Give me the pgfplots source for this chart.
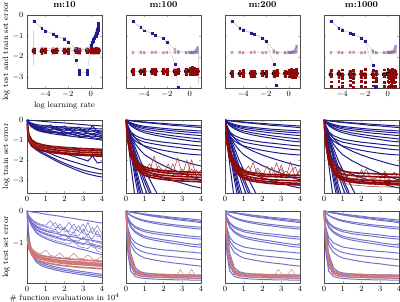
\documentclass[border=0pt]{standalone}
\usepackage{pgfplots}
\usepackage{pgfplotstable}
\pgfplotsset{compat=1.18}

\definecolor{dblue}{RGB}{30,30,140}
\definecolor{lblue}{RGB}{115,115,205}
\definecolor{dred}{RGB}{140,10,10}
\definecolor{lred}{RGB}{205,120,120}

\pgfplotsset{
  panel/.style={scale only axis, width=75pt, anchor=north west,
    tick label style={font=\footnotesize}, label style={font=\footnotesize},
    title style={font=\small\bfseries, yshift=-2.5pt}, ylabel shift=-4pt, xlabel shift=-2pt,
    major tick length=2pt, tick style={gray!60}, axis line style={gray!60!black}},
  lr/.style={height=73pt, xmin=-5.6, xmax=1.0, ymin=-3.5, ymax=0,
    xtick={-4,-2,0}, ytick={0,-1,-2,-3}},
  tr/.style={height=73pt, xmin=0, xmax=4, ymin=-3.65, ymax=0,
    xtick={0,1,2,3,4}, ytick={0,-1,-2,-3}},
  te/.style={height=72pt, xmin=0, xmax=4, ymin=-2.22, ymax=0,
    xtick={0,1,2,3,4}, ytick={0,-1}},
  inner/.style={yticklabels={}},
  meanline/.style={gray!45, line width=0.4pt, mark=none},
  trb/.style={dblue, line width=1pt, mark=none},
  trr/.style={dred, line width=1.6pt, mark=none},
  trs/.style={dred!80, line width=0.5pt, mark=none},
  teb/.style={lblue, line width=1pt, mark=none},
  tes/.style={lblue, line width=0.5pt, mark=none},
  ter/.style={lred, line width=1.2pt, mark=none},
}

% curves of a transposed table: column 1 holds the x grid, #2 lists the columns
\newcommand{\curves}[3]{\pgfplotsinvokeforeach{#2}{\addplot[#3] table[x index=1,y index=##1]{#1};}}

% repeated runs of the second method at each learning rate
\newcommand{\redruns}[2]{%
  \addplot[meanline] table[x index=0,y index=1]{#1};
  \addplot[meanline] table[x index=0,y index=4]{#1};
  \addplot[only marks, mark=none, error bars/.cd, y dir=both, y fixed=0.14,
    error bar style={lred!55}] table[x index=0,y index=4]{#1};
  \pgfplotsinvokeforeach{1,2}{\addplot[only marks, mark=x, lred, mark size=1.6pt] table[x index=0,y index=##1]{#1};}
  \pgfplotsinvokeforeach{3,...,#2}{\addplot[only marks, mark=square*, dred, mark size=0.9pt] table[x index=0,y index=##1]{#1};}
}

% ---------- learning-rate sweeps ----------
\pgfplotstableread{
L te1 te2 tr1 tr2 tr3
-5 -1.6 -1.66 -1.64 -1.72 -1.8
-4.3 -1.58 -1.66 -1.65 -1.73 -1.82
-4 -1.62 -1.68 -1.62 -1.7 -1.78
-3.3 -1.6 -1.66 -1.66 -1.73 -1.81
-3 -1.58 -1.65 -1.63 -1.71 -1.79
-2.3 -1.6 -1.67 -1.62 -1.72 -1.8
-2 -1.6 -1.68 -1.64 -1.73 -1.82
-1.3 -1.58 -1.65 -1.6 -1.7 -1.78
-1 -1.6 -1.67 -1.63 -1.72 -1.8
-0.3 -1.59 -1.66 -1.62 -1.71 -1.79
0 -1.6 -1.68 -1.64 -1.73 -1.8
0.1 -1.58 -1.66 -1.6 -1.7 -1.78
0.2 -1.6 -1.67 -1.63 -1.72 -1.8
0.3 -1.59 -1.66 -1.62 -1.71 -1.79
0.4 -1.6 -1.68 -1.64 -1.74 -1.81
0.5 -1.58 -1.65 -1.61 -1.7 -1.78
0.6 -1.6 -1.67 -1.63 -1.72 -1.8
0.7 -1.59 -1.66 -1.62 -1.71 -1.79
}\lrRedA

\pgfplotstableread{
L te1 te2 tr1 tr2 tr3
-5 -1.78 -1.82 -2.6 -2.7 -2.82
-4.3 -1.77 -1.81 -2.62 -2.71 -2.8
-4 -1.79 -1.83 -2.58 -2.69 -2.83
-3.3 -1.78 -1.82 -2.6 -2.72 -2.81
-3 -1.77 -1.81 -2.61 -2.7 -2.84
-2.3 -1.79 -1.83 -2.57 -2.7 -2.8
-2 -1.78 -1.82 -2.6 -2.71 -2.82
-1.3 -1.77 -1.81 -2.62 -2.7 -2.83
-1 -1.79 -1.83 -2.59 -2.69 -2.81
-0.3 -1.78 -1.82 -2.6 -2.7 -2.82
0 -1.78 -1.82 -2.55 -2.68 -2.85
0.1 -1.77 -1.81 -2.58 -2.7 -2.8
0.2 -1.79 -1.83 -2.5 -2.69 -2.84
0.3 -1.78 -1.82 -2.6 -2.71 -2.86
0.4 -1.78 -1.8 -2.56 -2.7 -2.82
0.5 -1.77 -1.81 -2.62 -2.72 -2.85
0.6 -1.76 -1.8 -2.58 -2.69 -2.83
0.7 -1.74 -1.79 -2.6 -2.7 -2.8
}\lrRedB

\pgfplotstableread{
L te1 te2 tr1 tr2 tr3
-5 -1.78 -1.82 -2.68 -2.8 -2.93
-4.3 -1.77 -1.81 -2.7 -2.81 -2.9
-4 -1.79 -1.83 -2.66 -2.79 -2.94
-3.3 -1.78 -1.82 -2.69 -2.8 -2.92
-3 -1.77 -1.81 -2.7 -2.82 -2.95
-2.3 -1.79 -1.83 -2.67 -2.8 -2.9
-2 -1.78 -1.82 -2.68 -2.81 -2.93
-1.3 -1.77 -1.81 -2.7 -2.8 -2.94
-1 -1.79 -1.83 -2.66 -2.79 -2.91
-0.3 -1.78 -1.82 -2.68 -2.8 -2.93
0 -1.78 -1.82 -2.62 -2.78 -2.96
0.1 -1.77 -1.81 -2.66 -2.8 -2.9
0.2 -1.79 -1.83 -2.6 -2.79 -2.95
0.3 -1.78 -1.82 -2.68 -2.81 -2.97
0.4 -1.78 -1.8 -2.64 -2.8 -2.92
0.5 -1.77 -1.81 -2.7 -2.82 -2.96
0.6 -1.75 -1.79 -2.65 -2.79 -2.94
0.7 -1.7 -1.78 -2.68 -2.8 -2.9
}\lrRedC

\pgfplotstableread{
L te1 te2 tr1 tr2 tr3 tr4 tr5
-5 -1.78 -1.82 -2.66 -2.85 -2.95 -3.2 -3.4
-4.3 -1.77 -1.81 -2.7 -2.82 -3.0 -3.18 -3.45
-4 -1.79 -1.83 -2.62 -2.88 -3.02 -3.25 -3.42
-3.3 -1.78 -1.82 -2.68 -2.84 -2.98 -3.15 -3.38
-3 -1.77 -1.81 -2.64 -2.86 -3.04 -3.22 -3.46
-2.3 -1.79 -1.83 -2.7 -2.83 -2.97 -3.19 -3.4
-2 -1.78 -1.82 -2.6 -2.87 -3.01 -3.24 -3.44
-1.3 -1.77 -1.81 -2.66 -2.85 -2.99 -3.2 -3.39
-1 -1.79 -1.83 -2.68 -2.84 -3.03 -3.17 -3.43
-0.3 -1.78 -1.82 -2.62 -2.86 -2.96 -3.21 -3.41
0 -1.78 -1.82 -2.6 -2.82 -3.0 -3.18 -3.45
0.1 -1.77 -1.81 -2.66 -2.88 -3.05 -3.23 -3.4
0.2 -1.79 -1.83 -2.63 -2.84 -2.98 -3.2 -3.42
0.3 -1.78 -1.82 -2.69 -2.86 -3.02 -3.16 -3.38
0.4 -1.78 -1.8 -2.61 -2.83 -2.97 -3.22 -3.44
0.5 -1.77 -1.81 -2.67 -2.87 -3.04 -3.19 -3.41
0.6 -1.75 -1.79 -2.64 -2.85 -3.0 -3.24 -3.46
0.7 -1.7 -1.78 -2.68 -2.84 -2.99 -3.2 -3.4
}\lrRedD

% ---------- training error curves (first row: x grid) ----------
\pgfplotstableread[header=false]{
0 0.1 0.25 0.5 0.75 1 1.25 1.5 1.75 2 2.25 2.5 2.75 3 3.25 3.5 3.75 4
0 -0.01 -0.02 -0.04 -0.06 -0.08 -0.1 -0.12 -0.13 -0.15 -0.17 -0.19 -0.21 -0.23 -0.25 -0.27 -0.28 -0.3
0 -0.09 -0.16 -0.23 -0.26 -0.28 -0.3 -0.32 -0.33 -0.35 -0.36 -0.37 -0.39 -0.4 -0.41 -0.42 -0.44 -0.45
0 -0.11 -0.19 -0.28 -0.32 -0.3 -0.37 -0.39 -0.35 -0.42 -0.44 -0.4 -0.47 -0.48 -0.45 -0.52 -0.53 -0.55
0 -0.13 -0.23 -0.33 -0.38 -0.41 -0.39 -0.46 -0.48 -0.45 -0.52 -0.54 -0.5 -0.57 -0.59 -0.55 -0.63 -0.65
0 -0.14 -0.25 -0.36 -0.42 -0.45 -0.48 -0.44 -0.53 -0.55 -0.5 -0.6 -0.62 -0.58 -0.66 -0.68 -0.64 -0.72
0 -0.16 -0.28 -0.4 -0.46 -0.5 -0.54 -0.57 -0.52 -0.62 -0.64 -0.6 -0.69 -0.7 -0.66 -0.75 -0.72 -0.8
0 -0.17 -0.3 -0.43 -0.49 -0.54 -0.57 -0.6 -0.63 -0.6 -0.68 -0.71 -0.66 -0.75 -0.77 -0.72 -0.82 -0.85
0 -0.18 -0.32 -0.45 -0.52 -0.57 -0.55 -0.64 -0.67 -0.69 -0.64 -0.75 -0.77 -0.72 -0.82 -0.85 -0.8 -0.9
0 -0.19 -0.33 -0.48 -0.55 -0.6 -0.64 -0.6 -0.7 -0.73 -0.76 -0.7 -0.82 -0.84 -0.8 -0.89 -0.92 -0.95
0 -0.2 -0.35 -0.5 -0.58 -0.63 -0.67 -0.71 -0.74 -0.77 -0.8 -0.83 -0.86 -0.88 -0.91 -0.94 -0.97 -1.0
0 -0.12 -0.21 -0.3 -0.35 -0.38 -0.25 -0.43 -0.44 -0.3 -0.48 -0.5 -0.35 -0.53 -0.55 -0.3 -0.58 -0.6
0 -0.7 -1.0 -1.2 -1.3 -1.38 -1.45 -1.52 -1.6 -1.68 -1.75 -1.82 -1.9 -1.97 -2.05 -1.8 -2.15 -2.1
0 -0.85 -1.15 -1.35 -1.48 -1.58 -1.68 -1.78 -1.87 -1.95 -2.03 -2.1 -2.17 -2.24 -2.31 -2.37 -2.44 -2.5
0 -0.95 -1.25 -1.45 -1.6 -1.7 -1.83 -1.95 -2.06 -2.16 -2.26 -2.35 -2.43 -2.51 -2.57 -2.62 -2.66 -2.7
0 -1.0 -1.3 -1.5 -1.65 -1.77 -1.9 -2.02 -2.14 -2.25 -2.35 -2.45 -2.54 -2.63 -2.7 -2.76 -2.81 -2.85
}\rawTrBlueA
\pgfplotstabletranspose{\trBlueA}{\rawTrBlueA}

\pgfplotstableread[header=false]{
0 0.1 0.25 0.5 0.75 1 1.25 1.5 1.75 2 2.25 2.5 2.75 3 3.25 3.5 3.75 4
-0.2 -0.8 -1.05 -1.2 -1.28 -1.33 -1.37 -1.4 -1.42 -1.44 -1.46 -1.48 -1.5 -1.51 -1.52 -1.53 -1.54 -1.55
-0.2 -0.9 -1.15 -1.3 -1.38 -1.43 -1.47 -1.5 -1.52 -1.54 -1.56 -1.58 -1.6 -1.61 -1.62 -1.63 -1.64 -1.65
-0.2 -1.0 -1.25 -1.4 -1.48 -1.53 -1.57 -1.6 -1.62 -1.64 -1.66 -1.68 -1.7 -1.71 -1.72 -1.73 -1.74 -1.75
-0.2 -1.05 -1.3 -1.45 -1.53 -1.58 -1.62 -1.65 -1.68 -1.7 -1.72 -1.74 -1.76 -1.77 -1.78 -1.79 -1.8 -1.82
-0.2 -0.85 -1.1 -1.25 -1.2 -1.38 -1.42 -1.3 -1.47 -1.49 -1.35 -1.53 -1.55 -1.4 -1.57 -1.58 -1.45 -1.6
-0.2 -0.95 -1.2 -1.35 -1.43 -1.3 -1.52 -1.55 -1.42 -1.59 -1.61 -1.48 -1.65 -1.66 -1.52 -1.68 -1.69 -1.55
-0.2 -0.75 -1.0 -1.15 -1.22 -1.27 -1.31 -1.33 -1.35 -1.37 -1.39 -1.4 -1.42 -1.43 -1.44 -1.45 -1.46 -1.47
}\rawTrRedA
\pgfplotstabletranspose{\trRedA}{\rawTrRedA}

\pgfplotstableread[header=false]{
0 0.1 0.25 0.5 0.75 1 1.5 2 2.5 3 3.5 4
0 -0.01 -0.03 -0.05 -0.08 -0.1 -0.14 -0.17 -0.21 -0.24 -0.27 -0.3
0 -0.02 -0.04 -0.07 -0.1 -0.13 -0.17 -0.22 -0.27 -0.3 -0.34 -0.38
0 -0.07 -0.14 -0.22 -0.28 -0.32 -0.37 -0.42 -0.46 -0.49 -0.52 -0.55
0 -0.08 -0.16 -0.26 -0.33 -0.38 -0.44 -0.49 -0.54 -0.58 -0.62 -0.65
0 -0.09 -0.2 -0.31 -0.39 -0.45 -0.53 -0.59 -0.65 -0.69 -0.74 -0.78
0 -0.11 -0.24 -0.38 -0.48 -0.55 -0.65 -0.72 -0.79 -0.85 -0.9 -0.95
0 -0.13 -0.28 -0.44 -0.55 -0.64 -0.75 -0.84 -0.91 -0.98 -1.05 -1.1
0 -0.33 -0.59 -0.78 -0.88 -0.96 -1.04 -1.11 -1.16 -1.21 -1.26 -1.3
0 -0.38 -0.68 -0.9 -1.02 -1.11 -1.2 -1.28 -1.34 -1.4 -1.46 -1.5
0 -0.45 -0.8 -1.05 -1.2 -1.3 -1.42 -1.52 -1.6 -1.67 -1.72 -1.75
0 -0.28 -0.58 -0.92 -1.15 -1.33 -1.56 -1.75 -1.91 -2.05 -2.19 -2.3
0 -0.36 -0.75 -1.2 -1.5 -1.74 -2.04 -2.28 -2.49 -2.67 -2.85 -3.0
0 -0.85 -1.53 -2.04 -2.31 -2.52 -2.72 -2.89 -3.03 -3.16 -3.3 -3.4
0 -0.7 -1.6 -3.0 -4.2 -5 -6 -7 -8 -9 -10 -11
0 -0.5 -1.2 -2.3 -3.2 -4.0 -5 -6 -7 -8 -9 -10
0 -0.45 -1.0 -1.9 -2.7 -3.4 -4.5 -5.5 -6.5 -7.5 -8.5 -9.5
0 -0.4 -0.9 -1.6 -2.3 -2.9 -4.0 -5 -6 -7 -8 -9
0 -1.0 -2.2 -4.0 -5.5 -7 -8 -9 -10 -11 -12 -13
0 -0.35 -0.8 -1.4 -2.0 -2.5 -3.4 -4.3 -5.2 -6 -7 -8
0 -0.55 -1.3 -2.5 -3.5 -4.3 -5.5 -6.5 -7.5 -8.5 -9.5 -10.5
0 -0.42 -0.95 -1.75 -2.5 -3.1 -4.2 -5.2 -6.2 -7.2 -8.2 -9.2
0 -0.6 -1.45 -2.7 -3.8 -4.6 -5.8 -6.8 -7.8 -8.8 -9.8 -10.8
0 -0.48 -1.1 -2.1 -2.95 -3.7 -4.8 -5.8 -6.8 -7.8 -8.8 -9.8
}\rawTrBlueFan
\pgfplotstabletranspose{\trBlueFan}{\rawTrBlueFan}

\pgfplotstableread[header=false]{
0 0.1 0.25 0.5 0.75 1 1.25 1.5 1.75 2 2.25 2.5 2.75 3 3.25 3.5 3.75 4
0 -0.8 -1.5 -2.05 -2.3 -2.45 -2.52 -2.57 -2.6 -2.63 -2.65 -2.67 -2.69 -2.7 -2.71 -2.72 -2.73 -2.74
0 -0.9 -1.6 -2.15 -2.42 -2.57 -2.64 -2.69 -2.73 -2.76 -2.78 -2.8 -2.82 -2.83 -2.84 -2.85 -2.86 -2.87
0 -0.7 -1.4 -1.95 -2.2 -2.35 -2.42 -2.47 -2.5 -2.53 -2.55 -2.57 -2.58 -2.59 -2.6 -2.61 -2.62 -2.62
0 -1.0 -1.7 -2.25 -2.52 -2.67 -2.75 -2.8 -2.84 -2.87 -2.9 -2.92 -2.94 -2.95 -2.96 -2.97 -2.98 -3.0
0 -0.8 -1.5 -2.1 -2.35 -2.5 -2.2 -2.6 -2.5 -2.68 -2.2 -2.72 -2.75 -2.45 -2.77 -2.0 -2.8 -2.5
0 -0.85 -1.55 -2.1 -2.38 -2.45 -2.6 -1.8 -2.66 -2.55 -2.73 -2.2 -2.76 -2.78 -2.0 -2.8 -2.5 -2.82
0 -0.75 -1.45 -2.0 -2.28 -2.42 -2.5 -2.55 -2.3 -2.61 -2.64 -2.66 -1.9 -2.69 -2.7 -2.45 -2.72 -2.73
0 -1.05 -1.8 -2.35 -2.62 -2.77 -2.85 -2.9 -2.94 -2.97 -3.0 -3.02 -3.04 -3.05 -3.06 -3.07 -3.08 -3.1
}\rawTrRedB
\pgfplotstabletranspose{\trRedB}{\rawTrRedB}

\pgfplotstableread[header=false]{
0 0.1 0.25 0.5 0.75 1 1.25 1.5 1.75 2 2.25 2.5 2.75 3 3.25 3.5 3.75 4
0 -0.9 -1.6 -2.2 -2.48 -2.62 -2.7 -2.75 -2.78 -2.8 -2.82 -2.83 -2.84 -2.85 -2.86 -2.87 -2.88 -2.88
0 -1.0 -1.75 -2.3 -2.6 -2.75 -2.83 -2.88 -2.92 -2.95 -2.97 -2.99 -3.0 -3.01 -3.02 -3.03 -3.04 -3.05
0 -0.8 -1.5 -2.1 -2.38 -2.52 -2.6 -2.65 -2.68 -2.7 -2.72 -2.73 -2.74 -2.75 -2.75 -2.76 -2.76 -2.77
0 -1.1 -1.85 -2.4 -2.7 -2.85 -2.93 -2.98 -3.02 -3.05 -3.08 -3.1 -3.12 -3.13 -3.14 -3.15 -3.16 -3.17
0 -0.9 -1.6 -2.2 -2.48 -2.62 -2.3 -2.75 -2.55 -2.8 -2.3 -2.83 -2.65 -2.45 -2.86 -2.1 -2.88 -2.55
0 -0.95 -1.65 -2.25 -2.55 -2.68 -2.76 -2.1 -2.84 -2.65 -2.88 -2.35 -2.9 -2.25 -2.92 -2.6 -2.35 -2.94
0 -0.85 -1.55 -2.15 -2.42 -2.56 -2.64 -2.69 -2.4 -2.74 -2.76 -2.77 -2.15 -2.79 -2.55 -2.81 -2.82 -2.45
0 -1.15 -1.9 -2.48 -2.78 -2.93 -3.01 -3.06 -3.1 -3.13 -3.16 -3.18 -3.2 -3.21 -3.22 -3.23 -3.24 -3.25
}\rawTrRedC
\pgfplotstabletranspose{\trRedC}{\rawTrRedC}

\pgfplotstableread[header=false]{
0 0.1 0.25 0.5 0.75 1 1.25 1.5 1.75 2 2.25 2.5 2.75 3 3.25 3.5 3.75 4
0 -1.0 -1.8 -2.35 -2.6 -2.7 -2.75 -2.78 -2.8 -2.81 -2.82 -2.83 -2.84 -2.85 -2.85 -2.86 -2.86 -2.87
0 -1.1 -1.95 -2.5 -2.75 -2.86 -2.92 -2.96 -2.98 -3.0 -3.01 -3.02 -3.03 -3.04 -3.05 -3.05 -3.06 -3.06
0 -0.9 -1.65 -2.2 -2.45 -2.55 -2.6 -2.63 -2.65 -2.66 -2.67 -2.68 -2.69 -2.7 -2.7 -2.71 -2.71 -2.72
0 -1.2 -2.05 -2.6 -2.88 -3.0 -3.07 -3.11 -3.14 -3.16 -3.18 -3.19 -3.2 -3.21 -3.22 -3.23 -3.23 -3.24
0 -1.25 -2.15 -2.72 -3.0 -3.13 -3.2 -3.24 -3.27 -3.29 -3.31 -3.32 -3.33 -3.34 -3.35 -3.35 -3.36 -3.36
0 -1.0 -1.85 -2.4 -2.66 -2.77 -2.83 -2.6 -2.89 -2.9 -2.45 -2.93 -2.94 -2.7 -2.96 -2.96 -2.6 -2.97
0 -1.05 -1.9 -2.45 -2.7 -2.82 -2.88 -2.92 -2.94 -2.5 -2.97 -2.98 -2.99 -3.0 -2.55 -3.01 -3.02 -3.02
0 -1.15 -2.0 -2.55 -2.8 -2.93 -3.0 -3.04 -3.07 -3.09 -3.11 -3.12 -3.13 -3.14 -3.15 -3.15 -3.16 -3.16
}\rawTrRedD
\pgfplotstabletranspose{\trRedD}{\rawTrRedD}

% ---------- test error curves ----------
\pgfplotstableread[header=false]{
0 0.1 0.25 0.5 0.75 1 1.25 1.5 1.75 2 2.25 2.5 2.75 3 3.25 3.5 3.75 4
0 -0.01 -0.03 -0.05 -0.07 -0.1 -0.12 -0.14 -0.16 -0.19 -0.21 -0.23 -0.26 -0.28 -0.3 -0.32 -0.35 -0.37
0 -0.14 -0.25 -0.35 -0.41 -0.44 -0.3 -0.5 -0.52 -0.54 -0.35 -0.58 -0.6 -0.4 -0.64 -0.66 -0.45 -0.7
0 -0.16 -0.28 -0.4 -0.46 -0.5 -0.54 -0.57 -0.4 -0.62 -0.64 -0.66 -0.45 -0.7 -0.73 -0.5 -0.78 -0.8
0 -0.18 -0.32 -0.45 -0.52 -0.57 -0.6 -0.64 -0.67 -0.5 -0.72 -0.75 -0.77 -0.55 -0.82 -0.85 -0.6 -0.9
0 -0.2 -0.35 -0.5 -0.58 -0.63 -0.67 -0.55 -0.74 -0.77 -0.8 -0.65 -0.86 -0.88 -0.7 -0.94 -0.97 -1.0
0 -0.22 -0.38 -0.54 -0.63 -0.68 -0.72 -0.77 -0.8 -0.7 -0.86 -0.9 -0.93 -0.8 -0.98 -1.02 -1.05 -1.08
0 -0.24 -0.41 -0.59 -0.68 -0.74 -0.79 -0.84 -0.87 -0.91 -0.8 -0.98 -1.01 -1.04 -0.9 -1.11 -1.14 -1.18
0 -0.26 -0.45 -0.64 -0.74 -0.81 -0.86 -0.91 -0.95 -0.99 -1.02 -0.9 -1.1 -1.13 -1.16 -1.0 -1.24 -1.28
0 -0.15 -0.26 -0.38 -0.44 -0.47 -0.5 -0.35 -0.56 -0.58 -0.6 -0.4 -0.64 -0.66 -0.35 -0.7 -0.72 -0.75
0 -0.27 -0.47 -0.68 -0.78 -0.85 -0.91 -0.96 -1.0 -1.04 -1.08 -1.12 -1.16 -1.19 -1.23 -1.27 -1.31 -1.35
0 -0.8 -1.25 -1.48 -1.58 -1.64 -1.68 -1.72 -1.75 -1.78 -1.8 -1.83 -1.85 -1.87 -1.89 -1.91 -1.93 -1.95
0 -0.85 -1.3 -1.53 -1.63 -1.69 -1.73 -1.77 -1.8 -1.83 -1.85 -1.88 -1.9 -1.92 -1.94 -1.96 -1.98 -2.0
0 -0.9 -1.35 -1.58 -1.68 -1.74 -1.78 -1.82 -1.85 -1.88 -1.9 -1.93 -1.95 -1.97 -1.99 -2.01 -2.03 -2.05
0 -0.19 -0.34 -0.48 -0.56 -0.61 -0.65 -0.69 -0.72 -0.75 -0.78 -0.8 -0.83 -0.86 -0.88 -0.91 -0.93 -0.96
0 -0.23 -0.4 -0.57 -0.66 -0.71 -0.76 -0.8 -0.84 -0.88 -0.91 -0.94 -0.97 -1.0 -1.03 -1.06 -1.09 -1.12
}\rawTeBlueA
\pgfplotstabletranspose{\teBlueA}{\rawTeBlueA}

\pgfplotstableread[header=false]{
0 0.1 0.25 0.5 0.75 1 1.25 1.5 1.75 2 2.25 2.5 2.75 3 3.25 3.5 3.75 4
-0.8 -1.0 -1.2 -1.32 -1.37 -1.4 -1.42 -1.44 -1.45 -1.47 -1.48 -1.49 -1.5 -1.51 -1.52 -1.53 -1.54 -1.55
-0.8 -1.05 -1.25 -1.37 -1.42 -1.45 -1.48 -1.5 -1.52 -1.54 -1.55 -1.56 -1.57 -1.58 -1.59 -1.6 -1.61 -1.62
-0.8 -1.1 -1.3 -1.42 -1.48 -1.52 -1.55 -1.58 -1.6 -1.62 -1.63 -1.64 -1.65 -1.66 -1.67 -1.68 -1.69 -1.7
-0.8 -1.15 -1.35 -1.48 -1.55 -1.59 -1.62 -1.65 -1.67 -1.69 -1.7 -1.72 -1.73 -1.74 -1.75 -1.76 -1.77 -1.78
-0.8 -0.95 -1.15 -1.27 -1.32 -1.2 -1.37 -1.4 -1.3 -1.43 -1.44 -1.3 -1.46 -1.47 -1.35 -1.48 -1.49 -1.4
-0.8 -1.08 -1.28 -1.4 -1.45 -1.48 -1.51 -1.53 -1.55 -1.57 -1.58 -1.6 -1.61 -1.62 -1.63 -1.64 -1.65 -1.66
}\rawTeRedA
\pgfplotstabletranspose{\teRedA}{\rawTeRedA}

\pgfplotstableread[header=false]{
0 0.1 0.25 0.5 0.75 1 1.5 2 2.5 3 3.5 4
0 -0.01 -0.03 -0.05 -0.07 -0.09 -0.13 -0.16 -0.2 -0.22 -0.25 -0.28
0 -0.01 -0.03 -0.06 -0.08 -0.11 -0.15 -0.19 -0.22 -0.26 -0.29 -0.32
0 -0.01 -0.04 -0.06 -0.09 -0.12 -0.17 -0.21 -0.25 -0.29 -0.32 -0.36
0 -0.06 -0.13 -0.2 -0.25 -0.29 -0.34 -0.38 -0.42 -0.45 -0.48 -0.5
0 -0.07 -0.14 -0.22 -0.28 -0.32 -0.38 -0.43 -0.46 -0.5 -0.53 -0.56
0 -0.2 -0.36 -0.48 -0.54 -0.59 -0.64 -0.68 -0.71 -0.74 -0.78 -0.8
0 -0.22 -0.39 -0.52 -0.59 -0.64 -0.7 -0.74 -0.77 -0.81 -0.84 -0.87
0 -0.26 -0.47 -0.63 -0.71 -0.78 -0.84 -0.89 -0.93 -0.98 -1.02 -1.05
0 -0.28 -0.5 -0.67 -0.76 -0.83 -0.9 -0.95 -1.0 -1.04 -1.09 -1.12
0 -0.52 -0.81 -0.98 -1.05 -1.11 -1.16 -1.2 -1.22 -1.25 -1.27 -1.3
0 -0.6 -0.93 -1.13 -1.22 -1.28 -1.34 -1.38 -1.41 -1.44 -1.47 -1.5
0 -0.68 -1.05 -1.28 -1.38 -1.45 -1.51 -1.56 -1.6 -1.63 -1.67 -1.7
0 -0.9 -1.5 -1.85 -1.93 -1.96 -1.98 -1.99 -2.0 -2.0 -2.01 -2.02
0 -1.1 -1.7 -1.95 -2.0 -2.02 -2.04 -2.05 -2.06 -2.06 -2.07 -2.08
0 -1.3 -1.85 -2.02 -2.06 -2.08 -2.1 -2.11 -2.12 -2.12 -2.13 -2.13
0 -0.7 -1.3 -1.75 -1.87 -1.91 -1.94 -1.95 -1.96 -1.97 -1.97 -1.98
}\rawTeBlueFan
\pgfplotstabletranspose{\teBlueFan}{\rawTeBlueFan}

\pgfplotstableread[header=false]{
0 0.1 0.25 0.5 0.75 1 1.5 2 2.5 3 3.5 4
0 -0.8 -1.5 -1.88 -1.95 -1.98 -2.0 -2.01 -2.02 -2.02 -2.03 -2.03
0 -0.9 -1.6 -1.93 -2.0 -2.02 -2.04 -2.05 -2.06 -2.06 -2.07 -2.07
0 -0.7 -1.4 -1.83 -1.9 -1.93 -1.95 -1.96 -1.97 -1.97 -1.98 -1.98
}\rawTeRedFan
\pgfplotstabletranspose{\teRedFan}{\rawTeRedFan}

\begin{document}
\begin{tikzpicture}
\useasboundingbox (0pt,0pt) rectangle (400pt,-302pt);

% ================= row 1: learning-rate sweeps =================
\begin{axis}[panel, lr, at={(27pt,-15pt)}, title={m:10},
  ylabel={log test and train set error}, xlabel={log learning rate}]
  \addplot[gray!35, line width=0.5pt] coordinates {(-5.05,-0.72) (-5.05,-2.4)};
  \redruns{\lrRedA}{5}
  \addplot[meanline] coordinates {(-5,-0.3) (-4.3,-0.62) (-4,-0.75) (-3.3,-0.9) (-3,-1.0) (-2.3,-1.12) (-2,-1.28) (-1.3,-1.6) (-1,-1.65) (-0.3,-1.65) (0,-1.45) (0.1,-1.3) (0.2,-1.2) (0.3,-1.05) (0.4,-0.95) (0.5,-0.8) (0.6,-0.65) (0.7,-0.5)};
  \addplot[meanline] coordinates {(-5,-0.3) (-4.3,-0.63) (-4,-0.76) (-3.3,-0.92) (-3,-1.02) (-2.3,-1.15) (-2,-1.3) (-1.3,-2.18) (-1,-2.75) (-0.3,-2.75) (0,-1.5) (0.1,-1.35) (0.2,-1.25) (0.3,-1.1) (0.4,-1.0) (0.5,-0.85) (0.6,-0.7) (0.7,-0.55)};
  \addplot[only marks, mark=x, lblue, mark size=1.6pt] coordinates {(-5,-0.3) (-4.3,-0.62) (-4,-0.75) (-3.3,-0.9) (-3,-1.0) (-2.3,-1.12) (-2,-1.28) (-1.3,-1.6) (-1,-1.65) (-0.3,-1.65) (0,-1.45) (0.1,-1.3) (0.2,-1.2) (0.3,-1.05) (0.4,-0.95) (0.5,-0.8) (0.6,-0.65) (0.7,-0.5) (0.05,-1.5) (0.15,-1.35) (0.25,-1.2) (0.35,-1.1) (0.45,-0.95) (0.55,-0.8) (0.65,-0.7) (0.7,-0.6) (-1,-2.82) (-0.3,-2.85)};
  \addplot[only marks, mark=square*, dblue, mark size=0.9pt] coordinates {(-5,-0.3) (-4.3,-0.63) (-4,-0.76) (-3.3,-0.92) (-3,-1.02) (-2.3,-1.15) (-2,-1.3) (-1.3,-2.18) (-1,-2.75) (-0.3,-2.75) (0,-1.5) (0.1,-1.35) (0.2,-1.25) (0.3,-1.1) (0.4,-1.0) (0.5,-0.85) (0.6,-0.7) (0.7,-0.55) (-1,-2.65) (-1,-2.85) (-0.3,-2.66) (-0.3,-2.85) (0.05,-1.45) (0.15,-1.3) (0.25,-1.15) (0.35,-1.05) (0.45,-0.92) (0.55,-0.78) (0.65,-0.62) (0.5,-1.0) (0.6,-0.9) (0.7,-0.75) (0.7,-0.38) (0.65,-0.5)};
\end{axis}

\begin{axis}[panel, lr, inner, at={(126pt,-15pt)}, title={m:100}]
  \addplot[gray!35, line width=0.5pt] coordinates {(0.75,-1.6) (0.75,-3.3)};
  \redruns{\lrRedB}{5}
  \addplot[meanline] coordinates {(-5,-0.3) (-4.3,-0.6) (-4,-0.75) (-3.3,-0.87) (-3,-0.97) (-2.3,-1.12) (-2,-1.3) (-1.3,-1.65) (-1,-1.75) (-0.3,-1.8) (0,-1.8) (0.1,-1.8) (0.2,-1.8) (0.3,-1.79) (0.4,-1.78) (0.5,-1.75) (0.6,-1.7) (0.7,-1.55)};
  \addplot[meanline] coordinates {(-5,-0.3) (-4.3,-0.6) (-4,-0.75) (-3.3,-0.88) (-3,-0.98) (-2.3,-1.13) (-2,-1.32) (-1.3,-2.35) (-1,-3.45)};
  \addplot[only marks, mark=x, lblue, mark size=1.6pt] coordinates {(-5,-0.3) (-4.3,-0.6) (-4,-0.75) (-3.3,-0.87) (-3,-0.97) (-2.3,-1.12) (-2,-1.3) (-1.3,-1.65) (-1,-1.75) (-0.3,-1.8) (0,-1.8) (0.1,-1.8) (0.2,-1.8) (0.3,-1.79) (0.4,-1.78) (0.5,-1.75) (0.6,-1.7) (0.7,-1.55) (0.65,-1.62)};
  \addplot[only marks, mark=square*, dblue, mark size=0.9pt] coordinates {(-5,-0.3) (-4.3,-0.6) (-4,-0.75) (-3.3,-0.88) (-3,-0.98) (-2.3,-1.13) (-2,-1.32) (-1.3,-2.35) (-1,-3.45)};
\end{axis}

\begin{axis}[panel, lr, inner, at={(225pt,-15pt)}, title={m:200}]
  \redruns{\lrRedC}{5}
  \addplot[only marks, mark=square*, dred, mark size=0.9pt] coordinates {(0.05,-2.7) (0.15,-2.9) (0.25,-2.62) (0.35,-2.95) (0.45,-2.75) (0.55,-2.65) (0.65,-2.9) (0.7,-2.6) (0.6,-2.98) (0.5,-2.86) (0.4,-2.66)};
  \addplot[meanline] coordinates {(-5,-0.3) (-4.3,-0.62) (-4,-0.7) (-3.3,-0.85) (-3,-0.92) (-2.3,-1.1) (-2,-1.25) (-1.3,-1.7) (-1,-1.8) (-0.3,-1.82) (0,-1.8) (0.1,-1.8) (0.2,-1.78) (0.3,-1.77) (0.4,-1.75) (0.5,-1.72) (0.6,-1.66) (0.7,-1.55)};
  \addplot[meanline] coordinates {(-5,-0.3) (-4.3,-0.62) (-4,-0.71) (-3.3,-0.86) (-3,-0.93) (-2.3,-1.11) (-2,-1.27) (-1.3,-2.35) (-1.1,-3.38)};
  \addplot[only marks, mark=x, lblue, mark size=1.6pt] coordinates {(-5,-0.3) (-4.3,-0.62) (-4,-0.7) (-3.3,-0.85) (-3,-0.92) (-2.3,-1.1) (-2,-1.25) (-1.3,-1.7) (-1,-1.8) (-0.3,-1.82) (0,-1.8) (0.1,-1.8) (0.2,-1.78) (0.3,-1.77) (0.4,-1.75) (0.5,-1.72) (0.6,-1.66) (0.7,-1.55) (0.65,-1.6) (0.7,-1.48)};
  \addplot[only marks, mark=square*, dblue, mark size=0.9pt] coordinates {(-5,-0.3) (-4.3,-0.62) (-4,-0.71) (-3.3,-0.86) (-3,-0.93) (-2.3,-1.11) (-2,-1.27) (-1.3,-2.35) (-1.1,-3.38)};
\end{axis}

\begin{axis}[panel, lr, inner, at={(324pt,-15pt)}, title={m:1000}]
  \redruns{\lrRedD}{7}
  \addplot[meanline] coordinates {(-5,-0.3) (-4.3,-0.62) (-4,-0.7) (-3.3,-0.85) (-3,-0.92) (-2.3,-1.1) (-2,-1.25) (-1.3,-1.7) (-1,-1.8) (-0.3,-1.82) (0,-1.8) (0.1,-1.8) (0.2,-1.78) (0.3,-1.77) (0.4,-1.75) (0.5,-1.72) (0.6,-1.66) (0.7,-1.55)};
  \addplot[meanline] coordinates {(-5,-0.3) (-4.3,-0.62) (-4,-0.71) (-3.3,-0.86) (-3,-0.93) (-2.3,-1.11) (-2,-1.27) (-1.3,-2.4) (-1.1,-3.45)};
  \addplot[only marks, mark=x, lblue, mark size=1.6pt] coordinates {(-5,-0.3) (-4.3,-0.62) (-4,-0.7) (-3.3,-0.85) (-3,-0.92) (-2.3,-1.1) (-2,-1.25) (-1.3,-1.7) (-1,-1.8) (-0.3,-1.82) (0,-1.8) (0.1,-1.8) (0.2,-1.78) (0.3,-1.77) (0.4,-1.75) (0.5,-1.72) (0.6,-1.66) (0.7,-1.55) (0.65,-1.6) (0.7,-1.48)};
  \addplot[only marks, mark=square*, dblue, mark size=0.9pt] coordinates {(-5,-0.3) (-4.3,-0.62) (-4,-0.71) (-3.3,-0.86) (-3,-0.93) (-2.3,-1.11) (-2,-1.27) (-1.3,-2.4) (-1.1,-3.45)};
\end{axis}

% ================= row 2: training error =================
\begin{axis}[panel, tr, at={(27pt,-120pt)}, ylabel={log train set error}]
  \curves{\trBlueA}{2,...,16}{trb}
  \curves{\trRedA}{2,3,4,5,8}{trr}
  \curves{\trRedA}{6,7}{trs}
\end{axis}
\begin{axis}[panel, tr, inner, at={(126pt,-120pt)}]
  \curves{\trBlueFan}{2,...,23}{trb}
  \curves{\trRedB}{6,7,8}{trs}
  \curves{\trRedB}{2,3,4,5,9}{trr}
\end{axis}
\begin{axis}[panel, tr, inner, at={(225pt,-120pt)}]
  \curves{\trBlueFan}{2,...,23}{trb}
  \curves{\trRedC}{6,7,8}{trs}
  \curves{\trRedC}{2,3,4,5,9}{trr}
\end{axis}
\begin{axis}[panel, tr, inner, at={(324pt,-120pt)}]
  \curves{\trBlueFan}{2,...,23}{trb}
  \curves{\trRedD}{6,7,8}{trs}
  \curves{\trRedD}{2,3,4,5,9}{trr}
\end{axis}

% ================= row 3: test error =================
\begin{axis}[panel, te, at={(27pt,-211pt)}, ylabel={log test set error},
  xlabel={\# function evaluations in $10^4$}, xlabel shift=-4.5pt]
  \curves{\teBlueA}{2,11,12,13,14,15,16}{teb}
  \curves{\teBlueA}{3,...,10}{tes}
  \curves{\teRedA}{2,3,4,5,7}{ter, line width=1.6pt}
  \curves{\teRedA}{6}{ter, line width=0.5pt}
\end{axis}
\begin{axis}[panel, te, inner, at={(126pt,-211pt)}]
  \curves{\teBlueFan}{2,...,17}{teb}
  \curves{\teRedFan}{2,3,4}{ter}
  \addplot[ter, line width=0.4pt] coordinates {(0,0) (0.1,-0.8) (0.25,-1.5) (0.5,-1.9) (1,-1.97) (2,-2.0) (2.7,-2.0) (2.9,-1.8) (3.1,-2.0) (3.3,-2.0) (3.5,-1.8) (3.7,-2.0) (4,-2.0)};
\end{axis}
\begin{axis}[panel, te, inner, at={(225pt,-211pt)}]
  \curves{\teBlueFan}{2,...,17}{teb}
  \curves{\teRedFan}{2,3,4}{ter}
  \addplot[ter, line width=0.4pt] coordinates {(0,0) (0.1,-0.8) (0.25,-1.5) (0.5,-1.9) (1,-1.97) (2,-2.0) (2.6,-2.0) (2.85,-1.8) (3.1,-2.0) (3.3,-2.0) (3.55,-1.8) (3.8,-2.0) (4,-2.0)};
\end{axis}
\begin{axis}[panel, te, inner, at={(324pt,-211pt)}]
  \curves{\teBlueFan}{2,...,17}{teb}
  \curves{\teRedFan}{2,3,4}{ter}
\end{axis}
\end{tikzpicture}
\end{document}
